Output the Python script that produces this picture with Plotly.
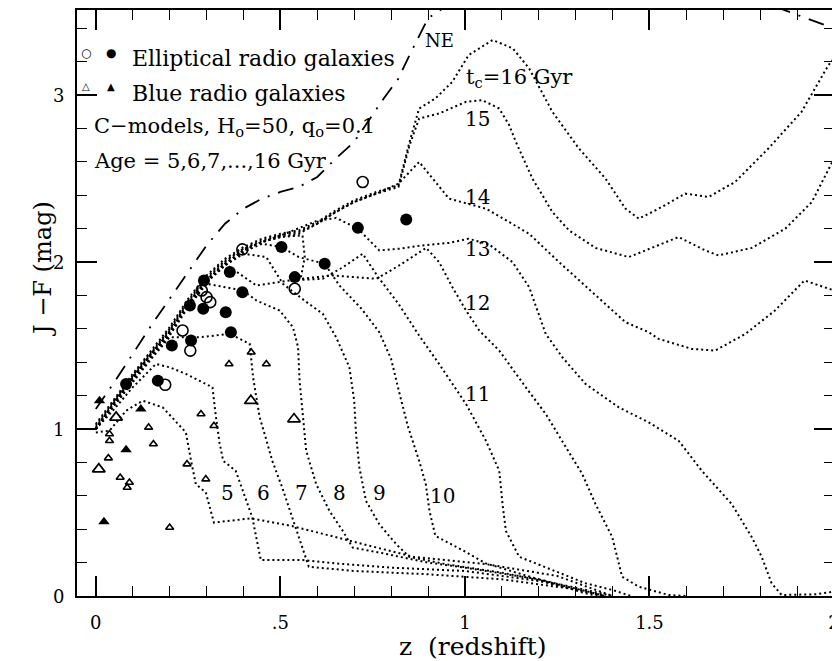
import plotly.graph_objects as go

# ---------------- model curves (z, J-F) for ages tc = 5..16 Gyr ----------------
z5 = [0.0, 0.037, 0.082, 0.127, 0.181, 0.244, 0.258, 0.271, 0.298, 0.32, 0.42, 0.53, 0.69, 0.86, 1.06, 1.25, 1.40]
y5 = [0.98, 0.99, 1.11, 1.17, 1.13, 0.98, 0.81, 0.67, 0.62, 0.44, 0.465, 0.42, 0.33, 0.235, 0.19, 0.12, 0.0]

z6 = [0.0, 0.05, 0.1, 0.163, 0.2, 0.244, 0.28, 0.316, 0.325, 0.335, 0.345, 0.379, 0.40, 0.424, 0.447, 0.56, 0.65, 0.8, 1.0, 1.2, 1.38]
y6 = [1.0, 1.12, 1.25, 1.39, 1.37, 1.33, 1.29, 1.25, 1.08, 0.92, 0.81, 0.75, 0.62, 0.47, 0.215, 0.215, 0.195, 0.17, 0.15, 0.09, 0.0]

z7 = [0.0, 0.05, 0.1, 0.15, 0.2, 0.282, 0.363, 0.417, 0.426, 0.444, 0.46, 0.478, 0.505, 0.532, 0.577, 0.7, 0.9, 1.1, 1.3, 1.38]
y7 = [1.0, 1.14, 1.28, 1.42, 1.55, 1.55, 1.57, 1.51, 1.31, 1.07, 0.95, 0.81, 0.65, 0.47, 0.175, 0.15, 0.13, 0.10, 0.04, 0.0]

z8 = [0.0, 0.05, 0.1, 0.15, 0.2, 0.25, 0.3, 0.399, 0.435, 0.498, 0.534, 0.548, 0.552, 0.561, 0.57, 0.597, 0.633, 0.669, 0.696, 0.78, 0.9, 1.0, 1.2, 1.38]
y8 = [1.0, 1.15, 1.29, 1.43, 1.56, 1.73, 1.87, 1.83, 1.77, 1.71, 1.61, 1.49, 1.29, 1.09, 0.87, 0.67, 0.51, 0.39, 0.29, 0.255, 0.2, 0.17, 0.1, 0.0]

z9 = [0.0, 0.05, 0.1, 0.15, 0.2, 0.25, 0.3, 0.35, 0.4, 0.462, 0.507, 0.565, 0.615, 0.651, 0.687, 0.70, 0.705, 0.714, 0.732, 0.768, 0.814, 0.849, 0.95, 1.1, 1.3, 1.40]
y9 = [1.0, 1.15, 1.30, 1.44, 1.57, 1.74, 1.88, 1.98, 2.05, 2.03, 1.87, 1.77, 1.69, 1.55, 1.37, 1.17, 0.97, 0.77, 0.57, 0.43, 0.31, 0.235, 0.19, 0.14, 0.05, 0.0]

z10 = [0.0, 0.05, 0.1, 0.15, 0.2, 0.25, 0.3, 0.35, 0.4, 0.45, 0.503, 0.55, 0.62, 0.66, 0.72, 0.768, 0.80, 0.822, 0.845, 0.876, 0.894, 0.904, 0.92, 0.993, 1.057, 1.147, 1.237, 1.327, 1.36]
y10 = [1.0, 1.15, 1.30, 1.44, 1.57, 1.74, 1.88, 1.98, 2.06, 2.11, 2.09, 2.03, 1.99, 1.86, 1.72, 1.58, 1.42, 1.22, 1.02, 0.81, 0.67, 0.51, 0.36, 0.275, 0.195, 0.135, 0.076, 0.016, 0.0]

z11 = [0.0, 0.05, 0.1, 0.15, 0.2, 0.25, 0.3, 0.35, 0.435, 0.525, 0.615, 0.67, 0.723, 0.765, 0.82, 0.876, 0.93, 1.003, 1.057, 1.093, 1.102, 1.111, 1.147, 1.237, 1.327, 1.40, 1.45]
y11 = [1.0, 1.16, 1.31, 1.45, 1.58, 1.75, 1.89, 1.99, 1.86, 1.89, 1.90, 1.97, 2.05, 1.91, 1.75, 1.56, 1.39, 1.15, 0.93, 0.75, 0.55, 0.39, 0.235, 0.155, 0.076, 0.036, 0.0]

z12 = [0.0, 0.05, 0.1, 0.15, 0.2, 0.25, 0.3, 0.35, 0.4, 0.45, 0.5, 0.56, 0.566, 0.555, 0.642, 0.76, 0.822, 0.895, 0.93, 0.966, 1.003, 1.039, 1.093, 1.138, 1.165, 1.219, 1.264, 1.318, 1.354, 1.399, 1.417, 1.426, 1.471, 1.552, 1.6]
y12 = [1.0, 1.16, 1.31, 1.45, 1.58, 1.75, 1.89, 1.99, 2.07, 2.12, 2.15, 2.16, 2.03, 1.90, 1.92, 1.90, 1.98, 2.085, 2.0, 1.85, 1.71, 1.59, 1.47, 1.33, 1.25, 1.09, 0.93, 0.73, 0.55, 0.354, 0.195, 0.115, 0.056, 0.006, 0.0]

z13 = [0.0, 0.05, 0.1, 0.15, 0.2, 0.25, 0.3, 0.35, 0.4, 0.45, 0.507, 0.597, 0.651, 0.71, 0.768, 0.822, 0.885, 0.957, 1.01, 1.066, 1.129, 1.174, 1.219, 1.264, 1.327, 1.417, 1.498, 1.579, 1.642, 1.723, 1.777, 1.804, 1.831, 1.858, 1.95, 2.0]
y13 = [1.0, 1.16, 1.31, 1.45, 1.58, 1.75, 1.89, 1.99, 2.07, 2.12, 2.165, 2.245, 2.265, 2.2, 2.07, 2.08, 2.10, 2.115, 2.14, 2.105, 2.0, 1.85, 1.57, 1.43, 1.27, 1.13, 1.04, 0.93, 0.75, 0.55, 0.354, 0.235, 0.076, 0.006, 0.01, 0.026]

z14 = [0.0, 0.05, 0.1, 0.15, 0.2, 0.25, 0.3, 0.35, 0.4, 0.45, 0.5, 0.55, 0.6, 0.65, 0.7, 0.76, 0.82, 0.876, 0.92, 0.957, 1.057, 1.174, 1.255, 1.344, 1.435, 1.498, 1.525, 1.615, 1.678, 1.76, 1.84, 1.92, 2.0]
y14 = [1.01, 1.16, 1.31, 1.45, 1.59, 1.76, 1.90, 2.0, 2.08, 2.12, 2.15, 2.17, 2.23, 2.30, 2.36, 2.41, 2.47, 2.60, 2.48, 2.38, 2.32, 2.17, 2.0, 1.82, 1.64, 1.58, 1.54, 1.48, 1.47, 1.57, 1.71, 1.89, 1.83]

z15 = [0.0, 0.05, 0.1, 0.15, 0.2, 0.25, 0.3, 0.35, 0.4, 0.45, 0.5, 0.55, 0.6, 0.65, 0.7, 0.76, 0.82, 0.85, 0.876, 0.93, 1.003, 1.047, 1.093, 1.12, 1.138, 1.183, 1.237, 1.282, 1.354, 1.444, 1.507, 1.579, 1.651, 1.687, 1.777, 1.868, 1.94, 2.0]
y15 = [1.02, 1.17, 1.32, 1.46, 1.60, 1.77, 1.91, 2.01, 2.08, 2.13, 2.16, 2.18, 2.23, 2.30, 2.36, 2.41, 2.45, 2.70, 2.86, 2.89, 2.96, 2.97, 2.92, 2.82, 2.72, 2.50, 2.30, 2.19, 2.085, 2.03, 2.085, 2.15, 2.07, 2.04, 2.085, 2.20, 2.36, 2.62]

z16 = [0.0, 0.05, 0.1, 0.15, 0.2, 0.25, 0.3, 0.35, 0.4, 0.45, 0.5, 0.55, 0.6, 0.65, 0.7, 0.76, 0.82, 0.85, 0.876, 0.92, 0.966, 1.01, 1.075, 1.13, 1.174, 1.237, 1.309, 1.381, 1.435, 1.471, 1.525, 1.597, 1.66, 1.732, 1.822, 1.912, 1.985, 2.0]
y16 = [1.03, 1.18, 1.33, 1.47, 1.61, 1.78, 1.92, 2.02, 2.09, 2.14, 2.17, 2.19, 2.24, 2.31, 2.37, 2.42, 2.46, 2.72, 2.92, 2.98, 3.08, 3.24, 3.33, 3.28, 3.16, 2.90, 2.68, 2.50, 2.32, 2.26, 2.32, 2.41, 2.39, 2.48, 2.68, 2.90, 3.18, 3.22]

# ---------------- no-evolution track ----------------
ne_z = [0.0, 0.05, 0.1, 0.15, 0.2, 0.25, 0.3, 0.35, 0.4, 0.45, 0.5, 0.55, 0.6, 0.65, 0.7, 0.74, 0.78, 0.82, 0.85, 0.9, 0.94, None, 1.84, 1.9, 1.95, 2.0]
ne_y = [1.12, 1.28, 1.45, 1.62, 1.78, 1.94, 2.10, 2.23, 2.32, 2.38, 2.42, 2.45, 2.51, 2.62, 2.72, 2.85, 2.98, 3.10, 3.24, 3.46, 3.52, None, 3.53, 3.48, 3.44, 3.40]

# ---------------- observed galaxies ----------------
ell_fill_z = [0.841, 0.71, 0.503, 0.62, 0.539, 0.363, 0.293, 0.397, 0.255, 0.291, 0.352, 0.366, 0.206, 0.258, 0.168, 0.082]
ell_fill_y = [2.255, 2.205, 2.09, 1.99, 1.91, 1.94, 1.89, 1.82, 1.74, 1.72, 1.70, 1.58, 1.50, 1.53, 1.29, 1.27]

ell_open_z = [0.723, 0.397, 0.539, 0.287, 0.30, 0.31, 0.235, 0.256, 0.188]
ell_open_y = [2.48, 2.076, 1.84, 1.83, 1.79, 1.76, 1.59, 1.47, 1.265]

blue_open_z = [0.361, 0.421, 0.462, 0.285, 0.32, 0.143, 0.037, 0.037, 0.156, 0.034, 0.066, 0.091, 0.085, 0.247, 0.298, 0.20]
blue_open_y = [1.39, 1.46, 1.39, 1.09, 1.02, 1.01, 0.97, 0.93, 0.91, 0.826, 0.71, 0.68, 0.65, 0.79, 0.70, 0.41]

blue_open_big_z = [0.42, 0.537, 0.055, 0.008]
blue_open_big_y = [1.17, 1.06, 1.07, 0.76]

blue_fill_z = [0.122, 0.082, 0.022, 0.01]
blue_fill_y = [1.12, 0.876, 0.444, 1.17]

# ---------------- labels ----------------
age_labels = ["5", "6", "7", "8", "9", "10", "11", "12", "13", "14", "15"]
age_label_z = [0.358, 0.455, 0.558, 0.66, 0.768, 0.939, 1.034, 1.034, 1.034, 1.034, 1.034]
age_label_y = [0.615, 0.615, 0.615, 0.615, 0.615, 0.60, 1.21, 1.755, 2.08, 2.39, 2.855]

x_tickvals = [0, 0.5, 1, 1.5, 2]
x_ticktext = ["0", ".5", "1", "1.5", "2"]
y_tickvals = [0, 1, 2, 3]
y_ticktext = ["0", "1", "2", "3"]

FONT = "DejaVu Serif"
fig = go.Figure()

dot = dict(color="black", width=2.0, dash="2px,3px")
for zz, yy in [(z5, y5), (z6, y6), (z7, y7), (z8, y8), (z9, y9), (z10, y10), (z11, y11),
               (z12, y12), (z13, y13), (z14, y14), (z15, y15), (z16, y16)]:
    fig.add_trace(go.Scatter(x=zz, y=yy, mode="lines", line=dot, hoverinfo="skip", showlegend=False))

fig.add_trace(go.Scatter(x=ne_z, y=ne_y, mode="lines", connectgaps=False,
                         line=dict(color="black", width=1.8, dash="16px,9px,2px,9px"),
                         hoverinfo="skip", showlegend=False))

fig.add_trace(go.Scatter(x=ell_fill_z, y=ell_fill_y, mode="markers",
                         marker=dict(symbol="circle", size=12, color="black"), showlegend=False))
fig.add_trace(go.Scatter(x=ell_open_z, y=ell_open_y, mode="markers",
                         marker=dict(symbol="circle-open", size=11, color="black", line=dict(width=1.6)),
                         showlegend=False))
fig.add_trace(go.Scatter(x=blue_open_z, y=blue_open_y, mode="markers",
                         marker=dict(symbol="triangle-up-open", size=7, color="black", line=dict(width=1.6)),
                         showlegend=False))
fig.add_trace(go.Scatter(x=blue_open_big_z, y=blue_open_big_y, mode="markers",
                         marker=dict(symbol="triangle-up-open", size=11, color="black", line=dict(width=1.7)),
                         showlegend=False))
fig.add_trace(go.Scatter(x=blue_fill_z, y=blue_fill_y, mode="markers",
                         marker=dict(symbol="triangle-up", size=10, color="black"), showlegend=False))

ann = []
for t, zx, yy in zip(age_labels, age_label_z, age_label_y):
    ann.append(dict(x=zx, y=yy, xref="x", yref="y", text=t, showarrow=False,
                    font=dict(family=FONT, size=20, color="black")))
ann.append(dict(x=1.147, y=3.10, xref="x", yref="y", text="t<sub>c</sub>=16 Gyr", showarrow=False,
                font=dict(family=FONT, size=21, color="black")))
ann.append(dict(x=0.93, y=3.33, xref="x", yref="y", text="NE", showarrow=False,
                font=dict(family=FONT, size=18, color="black")))

# y tick labels drawn to the left of the frame
for v, t in zip(y_tickvals, y_ticktext):
    ann.append(dict(x=0, y=v, xref="paper", yref="y", xanchor="right", xshift=-11, text=t,
                    showarrow=False, font=dict(family=FONT, size=18, color="black")))

# legend-like text block
ann.append(dict(x=0.0119, y=0.942, xref="paper", yref="paper", xanchor="center", text="○", showarrow=False,
                font=dict(family="DejaVu Sans", size=12, color="black")))
ann.append(dict(x=0.045, y=0.942, xref="paper", yref="paper", xanchor="center", text="●", showarrow=False,
                font=dict(family="DejaVu Sans", size=12, color="black")))
ann.append(dict(x=0.0119, y=0.883, xref="paper", yref="paper", xanchor="center", text="△", showarrow=False,
                font=dict(family="DejaVu Sans", size=10, color="black")))
ann.append(dict(x=0.045, y=0.883, xref="paper", yref="paper", xanchor="center", text="▲", showarrow=False,
                font=dict(family="DejaVu Sans", size=10, color="black")))
ann.append(dict(x=0.0698, y=0.942, xref="paper", yref="paper", xanchor="left", text="Elliptical radio galaxies",
                showarrow=False, font=dict(family=FONT, size=22, color="black")))
ann.append(dict(x=0.0698, y=0.883, xref="paper", yref="paper", xanchor="left", text="Blue radio galaxies",
                showarrow=False, font=dict(family=FONT, size=22, color="black")))
ann.append(dict(x=0.0198, y=0.8265, xref="paper", yref="paper", xanchor="left",
                text="C−models, H<sub>o</sub>=50, q<sub>o</sub>=0.1",
                showarrow=False, font=dict(family=FONT, size=21, color="black")))
ann.append(dict(x=0.0198, y=0.767, xref="paper", yref="paper", xanchor="left",
                text="Age = 5,6,7,...,16 Gyr",
                showarrow=False, font=dict(family=FONT, size=21, color="black")))

# axis titles
ann.append(dict(x=0.523, y=0, xref="paper", yref="paper", yshift=-50, yanchor="middle",
                text="z  (redshift)", showarrow=False, font=dict(family=FONT, size=25, color="black")))
ann.append(dict(x=-0.066, y=0.558, xref="paper", yref="paper", textangle=-90,
                text="J −F (mag)", showarrow=False, font=dict(family=FONT, size=24, color="black")))

axis_common = dict(showline=True, linecolor="black", linewidth=1.8, mirror="ticks",
                   ticks="inside", tickcolor="black", tickwidth=1.5, showgrid=False,
                   zeroline=False, ticklabeloverflow="allow",
                   tickfont=dict(family=FONT, size=18, color="black"))

# the page body adds an 8px offset; margins compensate so the plot frame sits at x 77..836, y 8..596
fig.update_layout(
    width=832, height=653,
    margin=dict(l=69, r=4, t=0, b=65),
    paper_bgcolor="white", plot_bgcolor="white",
    showlegend=False,
    annotations=ann,
    xaxis=dict(range=[-0.051, 2.0], tickmode="array", tickvals=x_tickvals, ticktext=x_ticktext,
               ticklen=20, ticklabelstandoff=9,
               minor=dict(dtick=0.1, tick0=0, ticklen=10, ticks="inside", tickcolor="black", tickwidth=1.4),
               **axis_common),
    yaxis=dict(range=[0, 3.51], tickmode="array", tickvals=y_tickvals, showticklabels=False,
               ticklen=20,
               minor=dict(dtick=0.2, tick0=0, ticklen=10, ticks="inside", tickcolor="black", tickwidth=1.4),
               **axis_common),
)

fig.write_html("out.html")
